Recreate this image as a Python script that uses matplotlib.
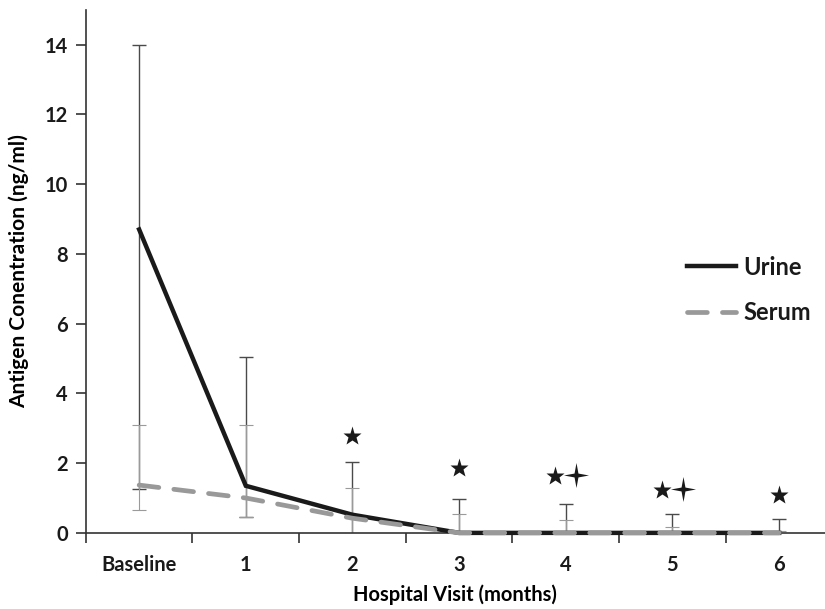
import numpy as np
from matplotlib import pyplot as plt
from matplotlib.path import Path

plt.rcParams["font.family"] = ["Lato", "DejaVu Sans"]
plt.rcParams["font.weight"] = "bold"

# data
visits = ["Baseline", "1", "2", "3", "4", "5", "6"]
urine_mean = [8.7, 1.35, 0.52, 0, 0, 0, 0]
urine_err_up = [5.3, 3.7, 1.52, 0.98, 0.83, 0.54, 0.39]
urine_err_down = [7.44, 0.9, 1.52, 0.98, 0.83, 0.54, 0.39]
serum_mean = [1.37, 1.0, 0.42, 0, 0, 0, 0]
serum_err_up = [1.73, 2.08, 0.87, 0.54, 0.37, 0.18, 0.05]
serum_err_down = [0.72, 0.55, 0.87, 0.54, 0.37, 0.18, 0.05]

# significance marks (visit index, offset, height)
star_visit = [2, 3, 4, 5, 6]
star_offset = [0, 0, -0.1, -0.1, 0]
star_y = [2.78, 1.86, 1.62, 1.23, 1.09]
cross_visit = [4, 5]
cross_offset = [0.1, 0.1]
cross_y = [1.66, 1.27]

x = np.arange(len(visits))

fig = plt.figure(figsize=(8.25, 6.09), dpi=100)
ax = fig.add_axes([0.104, 0.125, 0.896, 0.859])

ax.errorbar(x, urine_mean, yerr=[urine_err_down, urine_err_up], fmt="none",
            ecolor="#4a4a4a", elinewidth=1.0, capsize=5, capthick=1.0, zorder=2)
ax.errorbar(x, serum_mean, yerr=[serum_err_down, serum_err_up], fmt="none",
            ecolor="#9a9a9a", elinewidth=0.8, capsize=5, capthick=0.8, zorder=2)

ax.plot(x, urine_mean, color="#1a1a1a", lw=3.2, label="Urine", zorder=3,
        solid_joinstyle="miter", clip_on=False)
ax.plot(x, serum_mean, color="#999999", lw=3.4, label="Serum", zorder=4,
        dashes=(4.2, 3.2), dash_capstyle="round", clip_on=False)

# significance markers
ax.plot(np.array(star_visit) + np.array(star_offset), star_y, ls="none",
        marker="*", ms=14, color="#1a1a1a", mec="none", zorder=5)
cross = Path.unit_regular_star(4, 0.22)
ax.plot(np.array(cross_visit) + np.array(cross_offset), cross_y, ls="none",
        marker=cross, ms=18, color="#1a1a1a", mec="none", zorder=5)

ax.set_xlim(-0.5, 6.43)
ax.set_ylim(0, 15)
ax.set_yticks(np.arange(0, 15, 2))
ax.set_xticks(x)
ax.set_xticklabels(visits)
ax.set_xticks(np.arange(-0.5, 6.5, 1), minor=True)
ax.tick_params(axis="x", which="major", length=0, pad=16, labelsize=14.5)
ax.tick_params(axis="x", which="minor", length=7, width=1.2, color="#333333")
ax.tick_params(axis="y", length=7, width=1.2, color="#333333", labelsize=14.5, pad=6)

for side in ["top", "right"]:
    ax.spines[side].set_visible(False)
for side in ["left", "bottom"]:
    ax.spines[side].set_linewidth(1.2)
    ax.spines[side].set_color("#333333")

ax.set_ylabel("Antigen Conentration (ng/ml)", fontsize=15, fontweight="bold",
              labelpad=11)
ax.set_xlabel("Hospital Visit (months)", fontsize=14.5, fontweight="bold", labelpad=7)

leg = ax.legend(loc="upper left", bbox_to_anchor=(0.80, 0.548), frameon=False,
                fontsize=17, handlelength=2.1, handletextpad=0.3, labelspacing=0.95,
                borderaxespad=0)
for t in leg.get_texts():
    t.set_fontweight("bold")
    t.set_color("#1a1a1a")

for lab in ax.get_xticklabels() + ax.get_yticklabels():
    lab.set_color("#1a1a1a")

fig.savefig("out.png", dpi=100)
